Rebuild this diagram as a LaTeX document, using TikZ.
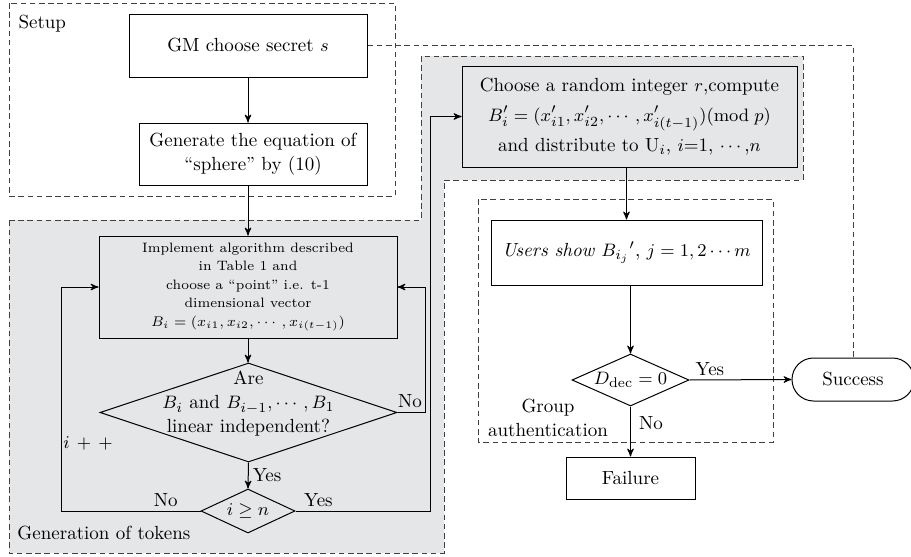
\documentclass[tikz,border=0pt]{standalone}
\usepackage{amsmath}
\usepackage{amssymb}
\usepackage{tikz}
\usetikzlibrary{arrows,shapes.geometric,shapes.misc}

\definecolor{tokengray}{RGB}{229,230,231}
\definecolor{dashgray}{RGB}{64,64,64}

\newcommand{\flowfont}{\fontsize{9.5}{12}\selectfont}
\newcommand{\smallflowfont}{\fontsize{6.8}{9.25}\selectfont}
\newcommand{\labelfont}{\fontsize{9.5}{12}\selectfont}

\begin{document}
\begin{tikzpicture}[->,>=stealth',x=0.5pt,y=-0.5pt,line width=0.5pt]
  \tikzstyle{block}=[draw,inner sep=0pt,align=center,font=\flowfont]
  \tikzstyle{decision}=[draw,diamond,aspect=2.2,inner sep=0pt,font=\flowfont]
  \tikzstyle{region}=[-,draw=dashgray,dash pattern=on 2.8pt off 1.8pt]
  \tikzstyle{tag}=[inner sep=0pt,font=\labelfont]

  \useasboundingbox (0,0) rectangle (911,557);

  % dashed regions
  \draw[region] (9,3) rectangle (395,196);
  \draw[region,fill=tokengray] (9,220) -- (421,220) -- (421,56) -- (803,56)
       -- (803,180) -- (444,180) -- (444,553) -- (9,553) -- cycle;
  \draw[region] (478,199) rectangle (773,442);

  \node[tag,anchor=base west] (setup) at (18,28) {Setup};
  \node[tag,anchor=base west] (gentok) at (17,539) {Generation of tokens};
  \node[tag,align=center] (grpauth) at (548,418) {Group\\ authentication};

  % setup
  \node[block,minimum width=119pt,minimum height=31.5pt] (gm) at (248,45.5)
       {GM choose secret $s$};
  \node[block,minimum width=114pt,minimum height=31pt] (gen) at (253,154)
       {Generate the equation of\\ ``sphere'' by (10)};

  % tokens
  \node[block,font=\smallflowfont,minimum width=149pt,minimum height=51pt] (impl) at (248,287)
       {Implement algorithm described\\ in Table 1 and\\ choose a ``point'' i.e. t-1\\
        dimensional vector\\ $B_i=(x_{i1},x_{i2},\cdots,x_{i(t-1)})$};
  \node[decision,minimum width=148.5pt,minimum height=49.5pt] (indep) at (248.5,412.5) {};
  \node[tag,align=center] (indeptext) at (248.5,404)
       {Are\\ $B_i$ and $B_{i-1},\cdots,B_1$\\ linear independent?};
  \node[decision,minimum width=47pt,minimum height=22pt] (geqn) at (248,511) {$i\geq n$};

  \node[block,minimum width=167.5pt,minimum height=50.5pt] (choose) at (629.5,116.5)
       {Choose a random integer $r$,compute\\[3pt]
        $B_i'=(x_{i1}',x_{i2}',\cdots,x_{i(t-1)}')(\mathrm{mod}\;p)$\\[3pt]
        and distribute to U$_i$, $i$=1, $\cdots$,$n$};

  % authentication
  \node[block,minimum width=135.5pt,minimum height=32.5pt] (users) at (626.5,252.5)
       {\textit{Users show} $B_{i_j}{}'$, $j=1,2\cdots m$};
  \node[decision,minimum width=58.5pt,minimum height=26pt] (ddec) at (630.5,380)
       {$D_{\mathrm{dec}}=0$};
  \node[block,minimum width=64.5pt,minimum height=21pt] (fail) at (630.5,478) {Failure};
  \node[block,rounded rectangle,minimum width=61pt,minimum height=21.5pt] (succ) at (853,379.5)
       {Success};

  \coordinate (loopL) at (61,511);
  \coordinate (loopR) at (425,412.5);
  \coordinate (jump) at (430,511);

  \draw (gm.south) -- (gm.south |- gen.north);
  \draw (gm.south |- gen.south) -- (impl.north);
  \draw (impl.south) -- (impl.south |- indep.north);
  \draw (indep.east) -- node[tag,above=2pt,pos=0.45] (no1) {No} (loopR) |- (impl.east);
  \draw (indep.south) -- node[tag,right=2pt] (yes1) {Yes} (geqn.north);
  \draw (geqn.west) -- node[tag,above=2pt,pos=0.25] (no2) {No} (loopL) |- (impl.west);
  \draw (geqn.east) -- node[tag,above=2pt,pos=0.17] (yes2) {Yes} (jump) |- (choose.west);
  \node[tag] (incr) at (88,443) {$i\,+\,+$};

  \draw (users.north |- choose.south) -- (users.north);
  \draw (ddec.north |- users.south) -- (ddec.north);
  \draw (ddec.east) -- node[tag,above=2pt,pos=0.2] (yes3) {Yes} (succ.west);
  \draw (ddec.south) -- node[tag,right=4pt,pos=0.33] (no3) {No} (fail.north);

  \draw[region] (gm.east) -| (succ.north);
\end{tikzpicture}
\end{document}
